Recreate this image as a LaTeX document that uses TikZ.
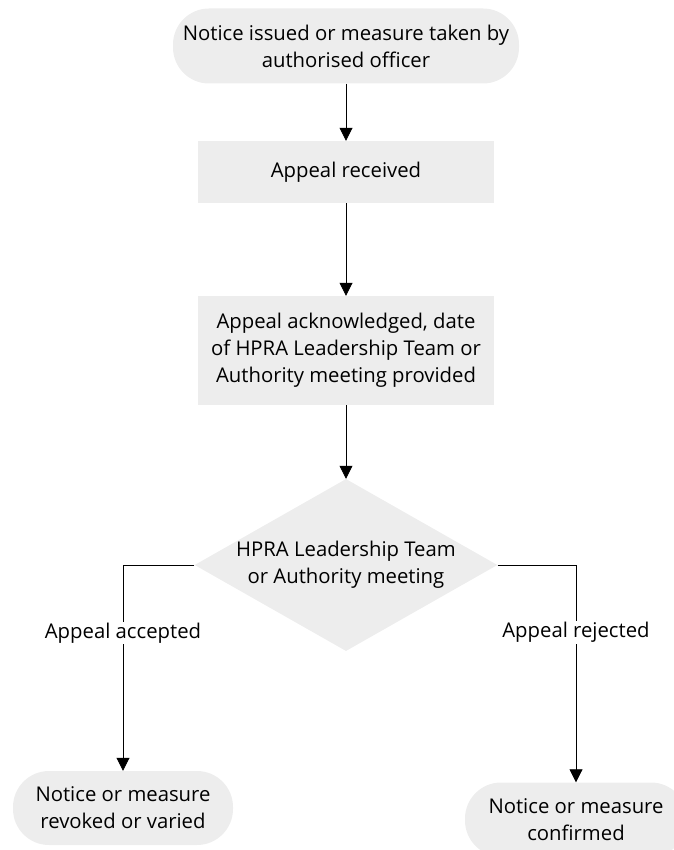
\documentclass[tikz,border=0pt]{standalone}
\usepackage{fontspec}
\setmainfont{Open Sans}
\usetikzlibrary{arrows.meta,shapes.geometric}
\definecolor{boxgray}{RGB}{237,237,237}
\tikzset{
  box/.style={fill=boxgray, align=center, inner sep=2pt},
  endbox/.style={box, rounded corners=36pt},
  arr/.style={-{Triangle[length=13pt,width=13pt]}, line width=0.8pt},
}
\begin{document}
\begin{tikzpicture}[x=1pt, y=-1pt, font=\fontsize{20.3}{27}\selectfont]
        \useasboundingbox (0,0) rectangle (673,850);

        % Nodi principali
        \node[endbox, minimum width=346pt, minimum height=75pt] (notice) at (346,46)
            {Notice issued or measure taken by\\authorised officer};
        \node[box, minimum width=296pt, minimum height=62pt] (received) at (346,172)
            {Appeal received};
        \node[box, minimum width=296pt, minimum height=109pt] (ack) at (346,350.5)
            {Appeal acknowledged, date\\of HPRA Leadership Team or\\Authority meeting provided};
        \node[box, diamond, aspect=1.76, inner sep=0pt, minimum width=300pt, minimum height=170pt] (meeting) at (346,565)
            {HPRA Leadership Team\\or Authority meeting};

        % Esiti
        \node[endbox, minimum width=220pt, minimum height=74pt] (revoked) at (123,808)
            {Notice or measure\\revoked or varied};
        \node[endbox, minimum width=222pt, minimum height=74pt] (confirmed) at (576,819.5)
            {Notice or measure\\confirmed};

        % Frecce
        \draw[arr] (notice) -- (received);
        \draw[arr] (received) -- (ack);
        \draw[arr] (ack) -- (meeting);
        \draw[arr] (meeting.west) -| node[pos=0.665, fill=white, inner sep=1pt] {Appeal accepted} (revoked.north);
        \draw[arr] (meeting.east) -| node[pos=0.655, fill=white, inner sep=1pt] {Appeal rejected} (confirmed.north);

\end{tikzpicture}
\end{document}
